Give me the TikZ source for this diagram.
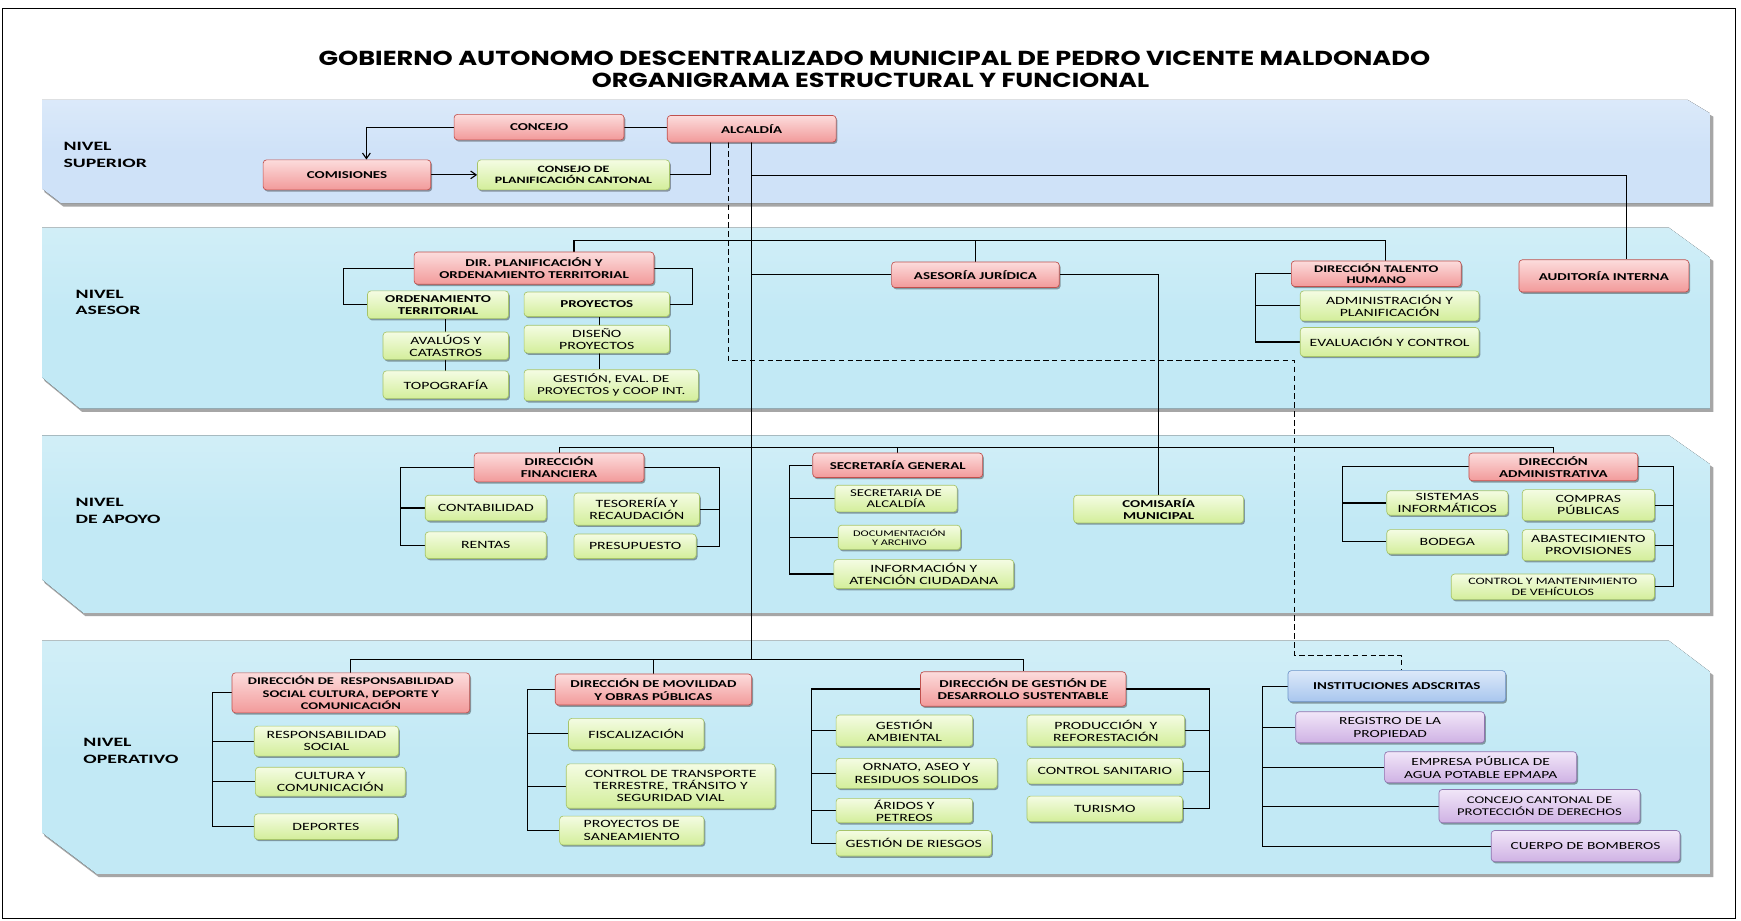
\documentclass[tikz,border=0pt]{standalone}
\usepackage{fontspec}
\setmainfont{Carlito}[FakeStretch=1.42]
\newfontfamily\lvlfont{Carlito}[FakeStretch=1.55]
\newfontfamily\titlefont{Poppins}
\usetikzlibrary{shadows,arrows.meta,calc}
\definecolor{redtop}{HTML}{FCDCDC}
\definecolor{redbot}{HTML}{F29A9A}
\definecolor{redline}{HTML}{C0504D}
\definecolor{grtop}{HTML}{F4FCE3}
\definecolor{grbot}{HTML}{D3EE9A}
\definecolor{grline}{HTML}{A6C46A}
\definecolor{putop}{HTML}{F1E6F8}
\definecolor{pubot}{HTML}{CFB2E4}
\definecolor{puline}{HTML}{8E74AE}
\definecolor{bltop}{HTML}{DCE9F9}
\definecolor{blbot}{HTML}{A8C6EE}
\definecolor{blline}{HTML}{6D94C9}
\definecolor{bandA}{HTML}{CFE2F8}
\definecolor{bandB}{HTML}{C2E9F5}
\pgfdeclarelayer{bands}
\pgfdeclarelayer{lines}
\pgfsetlayers{bands,lines,main}
\tikzset{
  sz/.style 2 args={minimum width=#1pt, minimum height=#2pt},
  box/.style={rounded corners=3pt, align=center, inner sep=1pt, line width=0.6pt,
    drop shadow={shadow xshift=1.2pt, shadow yshift=-1.6pt, opacity=0.35, fill=black}},
  rbox/.style={box, draw=redline, top color=redtop, bottom color=redbot, font=\bfseries\fontsize{9.5}{11}\selectfont},
  gbox/.style={box, draw=grline, top color=grtop, bottom color=grbot, font=\fontsize{10}{11}\selectfont},
  gbbox/.style={gbox, font=\bfseries\fontsize{9.5}{11}\selectfont},
  pbox/.style={box, draw=puline, top color=putop, bottom color=pubot, font=\fontsize{9.8}{11.5}\selectfont},
  bbox/.style={box, draw=blline, top color=bltop, bottom color=blbot, font=\bfseries\fontsize{9.5}{11}\selectfont},
  lvl/.style={anchor=west, align=left, font=\lvlfont\bfseries\fontsize{11.5}{15}\selectfont, inner sep=0pt},
  conn/.style={line width=1pt, draw=black},
  dconn/.style={conn, dash pattern=on 5pt off 3pt},
  arr/.style={conn, -{Straight Barb[length=5pt,width=7pt]}},
  bandshadow/.style={fill=gray!70, draw=none},
}
\begin{document}
\begin{tikzpicture}[x=1pt,y=-1pt]
\useasboundingbox (0,0) rectangle (1568,829);

% title
\node[inner sep=0pt] (title1) at (787.5,52.5) {\resizebox{1001pt}{13pt}{\titlefont\bfseries GOBIERNO AUTONOMO DESCENTRALIZADO MUNICIPAL DE PEDRO VICENTE MALDONADO}};
\node[inner sep=0pt] (title2) at (784,72.5) {\resizebox{502pt}{13pt}{\titlefont\bfseries ORGANIGRAMA ESTRUCTURAL Y FUNCIONAL}};

% bands
\begin{pgfonlayer}{bands}
\fill[white] (0,0) rectangle (1568,829);
\draw[line width=1pt] (2,8) rectangle (1563,827);
\fill[bandshadow] (40,93) -- (1521,93) -- (1543,105) -- (1543,186) -- (57,186) -- (40,173) -- cycle;
\fill[top color=bandA!75, bottom color=bandA, middle color=bandA] (38,90) -- (1520,90) -- (1540,102) -- (1540,183) -- (55,183) -- (38,170) -- cycle;
\fill[bandshadow] (40,208) -- (1504,208) -- (1543,235) -- (1543,371) -- (74,371) -- (40,343) -- cycle;
\fill[top color=bandB!75, bottom color=bandB, middle color=bandB] (38,205) -- (1503,205) -- (1540,232) -- (1540,368) -- (72,368) -- (38,340) -- cycle;
\fill[bandshadow] (40,395) -- (1504,395) -- (1543,421) -- (1543,555) -- (77,555) -- (40,525) -- cycle;
\fill[top color=bandB!75, bottom color=bandB, middle color=bandB] (38,392) -- (1503,392) -- (1540,418) -- (1540,552) -- (75,552) -- (38,522) -- cycle;
\fill[bandshadow] (40,580) -- (1504,580) -- (1543,608) -- (1543,790) -- (89,790) -- (40,753) -- cycle;
\fill[top color=bandB!75, bottom color=bandB, middle color=bandB] (38,577) -- (1503,577) -- (1540,605) -- (1540,787) -- (87,787) -- (38,750) -- cycle;
\end{pgfonlayer}

% level labels
\node[lvl] (lsup) at (57,139.5) {NIVEL\\SUPERIOR};
\node[lvl] (lase) at (68,272.5) {NIVEL\\ASESOR};
\node[lvl] (lapo) at (68,460) {NIVEL\\DE APOYO};
\node[lvl] (lope) at (75,676.5) {NIVEL\\OPERATIVO};

% nivel superior
\node[rbox, sz={153}{23}] (concejo) at (485.5,114.5) {CONCEJO};
\node[rbox, sz={152}{24}] (alcaldia) at (677,116) {ALCALDÍA};
\node[rbox, sz={151}{27}] (comisiones) at (312.5,157.5) {COMISIONES};
\node[gbbox, sz={173}{27}, font=\bfseries\fontsize{8.8}{9.8}\selectfont] (consejo) at (516.5,157.5) {CONSEJO DE\\PLANIFICACIÓN CANTONAL};

% nivel asesor
\node[rbox, sz={216}{29}] (dirplan) at (481,241.5) {DIR. PLANIFICACIÓN Y\\ORDENAMIENTO TERRITORIAL};
\node[gbbox, sz={127}{25}] (ordterr) at (394.5,274.5) {ORDENAMIENTO\\TERRITORIAL};
\node[gbbox, sz={131}{22}] (proy) at (537.5,274) {PROYECTOS};
\node[gbox, sz={113}{25}] (avaluos) at (401.5,311.5) {AVALÚOS Y\\CATASTROS};
\node[gbox, sz={113}{25}] (topo) at (401.5,346.5) {TOPOGRAFÍA};
\node[gbox, sz={131}{25}] (diseno) at (537.5,305.5) {DISEÑO\\PROYECTOS};
\node[gbox, sz={157}{28}, font=\fontsize{9.6}{11}\selectfont] (gestev) at (550.5,347) {GESTIÓN, EVAL. DE\\PROYECTOS y COOP INT.};
\node[rbox, sz={151}{23}] (asesoria) at (878.5,247.5) {ASESORÍA JURÍDICA};
\node[rbox, sz={153}{23}, font=\bfseries\fontsize{9.2}{10}\selectfont] (dirtal) at (1239.5,246.5) {DIRECCIÓN TALENTO\\HUMANO};
\node[gbox, sz={161}{27}] (admplan) at (1251.5,275.5) {ADMINISTRACIÓN Y\\PLANIFICACIÓN};
\node[gbox, sz={161}{26}] (evalctl) at (1251.5,308) {EVALUACIÓN Y CONTROL};
\node[rbox, sz={153}{29}] (auditoria) at (1444.5,248.5) {AUDITORÍA INTERNA};

% nivel de apoyo
\node[rbox, sz={153}{26}] (dirfin) at (503.5,421) {DIRECCIÓN\\FINANCIERA};
\node[gbox, sz={109}{23}] (contab) at (437.5,457.5) {CONTABILIDAD};
\node[gbox, sz={109}{24}] (rentas) at (437.5,491) {RENTAS};
\node[gbox, sz={113}{29}] (tesor) at (573.5,458.5) {TESORERÍA Y\\RECAUDACIÓN};
\node[gbox, sz={110}{22}] (presup) at (572,492) {PRESUPUESTO};
\node[rbox, sz={153}{22}] (secgen) at (808.5,419) {SECRETARÍA GENERAL};
\node[gbox, sz={110}{24}, font=\fontsize{9.4}{10}\selectfont] (secalc) at (807,449) {SECRETARIA DE\\ALCALDÍA};
\node[gbox, sz={110}{22}, font=\fontsize{7.8}{8.5}\selectfont] (docarch) at (810,484) {DOCUMENTACIÓN\\Y ARCHIVO};
\node[gbox, sz={162}{26}] (infoat) at (832,517) {INFORMACIÓN Y\\ATENCIÓN CIUDADANA};
\node[gbbox, sz={153}{25}] (comisaria) at (1043.5,458.5) {COMISARÍA\\MUNICIPAL};
\node[rbox, sz={152}{25}] (diradm) at (1399,420.5) {DIRECCIÓN\\ADMINISTRATIVA};
\node[gbox, sz={109}{22}] (sistinf) at (1303.5,453) {SISTEMAS\\INFORMÁTICOS};
\node[gbox, sz={109}{22}] (bodega) at (1303.5,488) {BODEGA};
\node[gbox, sz={119}{28}] (compras) at (1430.5,455) {COMPRAS\\PÚBLICAS};
\node[gbox, sz={119}{28}] (abast) at (1430.5,491) {ABASTECIMIENTO\\PROVISIONES};
\node[gbox, sz={183}{23}, font=\fontsize{8.8}{10}\selectfont] (ctlveh) at (1398.5,528.5) {CONTROL Y MANTENIMIENTO\\DE VEHÍCULOS};

% nivel operativo
\node[rbox, sz={214}{36}, font=\bfseries\fontsize{9.2}{11}\selectfont] (dirresp) at (316,624) {DIRECCIÓN DE \ RESPONSABILIDAD\\SOCIAL CULTURA, DEPORTE Y\\COMUNICACIÓN};
\node[gbox, sz={130}{27}] (respsoc) at (294,667.5) {RESPONSABILIDAD\\SOCIAL};
\node[gbox, sz={135}{26}] (cultura) at (297.5,704) {CULTURA Y\\COMUNICACIÓN};
\node[gbox, sz={129}{23}] (deportes) at (293.5,744.5) {DEPORTES};
\node[rbox, sz={177}{28}] (dirmov) at (588.5,621) {DIRECCIÓN DE MOVILIDAD\\Y OBRAS PÚBLICAS};
\node[gbox, sz={122}{28}] (fiscal) at (573,661) {FISCALIZACIÓN};
\node[gbox, sz={188}{40}] (ctltrans) at (604,708) {CONTROL DE TRANSPORTE\\TERRESTRE, TRÁNSITO Y\\SEGURIDAD VIAL};
\node[gbox, sz={130}{26}] (saneam) at (569,748) {PROYECTOS DE\\SANEAMIENTO};
\node[rbox, sz={185}{31}] (dirgest) at (921.5,620.5) {DIRECCIÓN DE GESTIÓN DE\\DESARROLLO SUSTENTABLE};
\node[gbox, sz={123}{28}] (gestamb) at (814.5,658) {GESTIÓN\\AMBIENTAL};
\node[gbox, sz={145}{27}] (ornato) at (825.5,696.5) {ORNATO, ASEO Y\\RESIDUOS SOLIDOS};
\node[gbox, sz={123}{22}] (aridos) at (814.5,730) {ÁRIDOS Y\\PETREOS};
\node[gbox, sz={140}{23}] (riesgos) at (823,759.5) {GESTIÓN DE RIESGOS};
\node[gbox, sz={142}{28}] (produc) at (996,658) {PRODUCCIÓN \ Y\\REFORESTACIÓN};
\node[gbox, sz={140}{23}] (ctlsan) at (995,694.5) {CONTROL SANITARIO};
\node[gbox, sz={140}{23}] (turismo) at (995,728.5) {TURISMO};
\node[bbox, sz={196}{28}] (instit) at (1258,618) {INSTITUCIONES ADSCRITAS};
\node[pbox, sz={170}{28}] (registro) at (1252,655) {REGISTRO DE LA\\PROPIEDAD};
\node[pbox, sz={173}{28}] (epmapa) at (1333.5,691) {EMPRESA PÚBLICA DE\\AGUA POTABLE EPMAPA};
\node[pbox, sz={181}{30}, font=\fontsize{9.3}{11}\selectfont] (ccpd) at (1386.5,726) {CONCEJO CANTONAL DE\\PROTECCIÓN DE DERECHOS};
\node[pbox, sz={170}{28}] (bomberos) at (1428,762) {CUERPO DE BOMBEROS};

% connectors
\begin{pgfonlayer}{lines}
\coordinate (cx) at (330,0);
\coordinate (cpx) at (640,0);
\coordinate (busop) at (677,594);
\coordinate (audj) at (1465,158);
\coordinate (dj1) at (656,325);
\coordinate (dj2) at (1166,590);
\coordinate (dj3) at (1262,590);
\draw[conn] (concejo.east) -- (concejo.east -| alcaldia.west);
\draw[arr] (concejo.west) -| (comisiones.north -| cx);
\draw[arr] (comisiones.east) -- (consejo.west);
\draw[conn] (consejo.east) -| (alcaldia.south -| cpx);
\draw[conn] (alcaldia.south) -- (busop);
\draw[conn] (alcaldia.south |- audj) -- (audj) -- (audj |- auditoria.north);
\draw[dconn] (alcaldia.south -| dj1) -- (dj1) -- (dj1 -| dj2) -- (dj2) -- (dj3) -- (dj3 |- instit.north);

% asesor
\coordinate (ja1) at (517,217);
\coordinate (ja3) at (1248,217);
\coordinate (pl) at (309,0);
\coordinate (pr) at (624,0);
\coordinate (gx) at (540,0);
\coordinate (tl) at (1131,0);
\draw[conn] (dirplan.north -| ja1) -- (ja1) -- (ja3) -- (ja3 |- dirtal.north);
\draw[conn] (asesoria.north) -- (asesoria.north |- ja1);
\draw[conn] (asesoria.west -| busop) -- (asesoria.west);
\draw[conn] (asesoria.east) -| (comisaria.north);
\draw[conn] (dirplan.west) -| (ordterr.west -| pl) -- (ordterr.west);
\draw[conn] (dirplan.east) -| (proy.east -| pr) -- (proy.east);
\draw[conn] (ordterr.south -| topo.north) -- (topo.north);
\draw[conn] (proy.south -| gx) -- (gestev.north -| gx);
\draw[conn] (dirtal.west) -| (evalctl.west -| tl) -- (evalctl.west);
\draw[conn] (admplan.west -| tl) -- (admplan.west);

% apoyo
\coordinate (jb1) at (503.5,403);
\coordinate (fl) at (361,0);
\coordinate (fr) at (648,0);
\coordinate (sl) at (711,0);
\coordinate (al) at (1209,0);
\coordinate (ar) at (1507,0);
\draw[conn] (dirfin.north) -- (jb1) -- (jb1 -| diradm.north) -- (diradm.north);
\draw[conn] (secgen.north) -- (secgen.north |- jb1);
\draw[conn] (dirfin.west) -| (rentas.west -| fl) -- (rentas.west);
\draw[conn] (contab.west -| fl) -- (contab.west);
\draw[conn] (dirfin.east) -| (presup.east -| fr) -- (presup.east);
\draw[conn] (tesor.east -| fr) -- (tesor.east);
\draw[conn] (secgen.west) -| (infoat.west -| sl) -- (infoat.west);
\draw[conn] (secalc.west -| sl) -- (secalc.west);
\draw[conn] (docarch.west -| sl) -- (docarch.west);
\draw[conn] (diradm.west) -| (bodega.west -| al) -- (bodega.west);
\draw[conn] (sistinf.west -| al) -- (sistinf.west);
\draw[conn] (diradm.east) -| (ctlveh.east -| ar) -- (ctlveh.east);
\draw[conn] (compras.east -| ar) -- (compras.east);
\draw[conn] (abast.east -| ar) -- (abast.east);

% operativo
\coordinate (rl) at (191,0);
\coordinate (ml) at (475,0);
\coordinate (gl) at (731,0);
\coordinate (gr) at (1089,0);
\coordinate (il) at (1137,0);
\draw[conn] (dirresp.north) -- (dirresp.north |- busop) -- (busop -| dirgest.north) -- (dirgest.north);
\draw[conn] (dirmov.north) -- (dirmov.north |- busop);
\draw[conn] (dirresp.west) -| (deportes.west -| rl) -- (deportes.west);
\draw[conn] (respsoc.west -| rl) -- (respsoc.west);
\draw[conn] (cultura.west -| rl) -- (cultura.west);
\draw[conn] (dirmov.west) -| (saneam.west -| ml) -- (saneam.west);
\draw[conn] (fiscal.west -| ml) -- (fiscal.west);
\draw[conn] (ctltrans.west -| ml) -- (ctltrans.west);
\draw[conn] (dirgest.west) -| (riesgos.west -| gl) -- (riesgos.west);
\draw[conn] (gestamb.west -| gl) -- (gestamb.west);
\draw[conn] (ornato.west -| gl) -- (ornato.west);
\draw[conn] (aridos.west -| gl) -- (aridos.west);
\draw[conn] (dirgest.east) -| (turismo.east -| gr) -- (turismo.east);
\draw[conn] (produc.east -| gr) -- (produc.east);
\draw[conn] (ctlsan.east -| gr) -- (ctlsan.east);
\draw[conn] (instit.west) -| (bomberos.west -| il) -- (bomberos.west);
\draw[conn] (registro.west -| il) -- (registro.west);
\draw[conn] (epmapa.west -| il) -- (epmapa.west);
\draw[conn] (ccpd.west -| il) -- (ccpd.west);
\end{pgfonlayer}
\end{tikzpicture}
\end{document}
